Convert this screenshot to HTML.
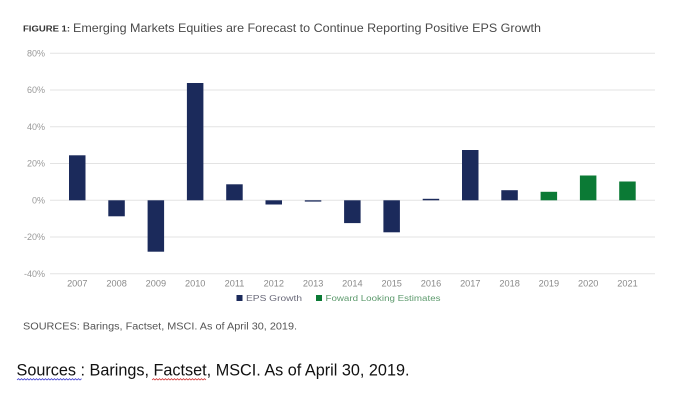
<!DOCTYPE html>
<html><head><meta charset="utf-8"><style>
html,body{margin:0;padding:0;background:#fff;width:690px;height:401px;overflow:hidden}
svg{display:block}
text{font-family:"Liberation Sans",sans-serif}
</style></head><body>
<svg width="690" height="401" viewBox="0 0 690 401" xmlns="http://www.w3.org/2000/svg">
<rect width="690" height="401" fill="#fff"/>
<!-- title -->
<text x="23" y="31.5" font-size="8.6" font-weight="bold" fill="#333" textLength="47" lengthAdjust="spacingAndGlyphs">FIGURE 1:</text>
<text x="73" y="32" font-size="12" fill="#4a4a4a" textLength="468" lengthAdjust="spacingAndGlyphs">Emerging Markets Equities are Forecast to Continue Reporting Positive EPS Growth</text>
<!-- gridlines -->
<g stroke="#e3e3e3" stroke-width="1">
<line x1="50" y1="53.3" x2="655" y2="53.3"/>
<line x1="50" y1="90" x2="655" y2="90"/>
<line x1="50" y1="126.8" x2="655" y2="126.8"/>
<line x1="50" y1="163.5" x2="655" y2="163.5"/>
<line x1="50" y1="200.3" x2="655" y2="200.3"/>
<line x1="50" y1="237" x2="655" y2="237"/>
<line x1="50" y1="273.8" x2="655" y2="273.8"/>
</g>
<!-- y labels -->
<g font-size="9" fill="#999" text-anchor="end">
<text x="45" y="56.5">80%</text>
<text x="45" y="93.2">60%</text>
<text x="45" y="130">40%</text>
<text x="45" y="166.7">20%</text>
<text x="45" y="203.5">0%</text>
<text x="45" y="240.2">-20%</text>
<text x="45" y="277">-40%</text>
</g>
<!-- bars: y = 200.3 - v*1.8375 -->
<g fill="#1b2a5b">
<rect x="69" y="155.3" width="16.5" height="45"/>
<rect x="108.3" y="200.3" width="16.5" height="16"/>
<rect x="147.6" y="200.3" width="16.5" height="51.4"/>
<rect x="186.9" y="83" width="16.5" height="117.3"/>
<rect x="226.2" y="184.3" width="16.5" height="16"/>
<rect x="265.5" y="200.3" width="16.5" height="4.2"/>
<rect x="304.8" y="200.3" width="16.5" height="1.3"/>
<rect x="344.1" y="200.3" width="16.5" height="22.8"/>
<rect x="383.4" y="200.3" width="16.5" height="32"/>
<rect x="422.7" y="198.8" width="16.5" height="1.5"/>
<rect x="462" y="150" width="16.5" height="50.3"/>
<rect x="501.3" y="190.2" width="16.5" height="10.1"/>
</g>
<g fill="#0b7a35">
<rect x="540.6" y="191.8" width="16.5" height="8.5"/>
<rect x="579.9" y="175.5" width="16.5" height="24.8"/>
<rect x="619.2" y="181.5" width="16.5" height="18.8"/>
</g>
<!-- x labels -->
<g font-size="9.2" fill="#8a8a8a" text-anchor="middle">
<text x="77.3" y="286.6">2007</text>
<text x="116.6" y="286.6">2008</text>
<text x="155.9" y="286.6">2009</text>
<text x="195.2" y="286.6">2010</text>
<text x="234.5" y="286.6">2011</text>
<text x="273.8" y="286.6">2012</text>
<text x="313.1" y="286.6">2013</text>
<text x="352.4" y="286.6">2014</text>
<text x="391.7" y="286.6">2015</text>
<text x="431" y="286.6">2016</text>
<text x="470.3" y="286.6">2017</text>
<text x="509.6" y="286.6">2018</text>
<text x="548.9" y="286.6">2019</text>
<text x="588.2" y="286.6">2020</text>
<text x="627.5" y="286.6">2021</text>
</g>
<!-- legend -->
<rect x="236.5" y="295" width="6" height="6" fill="#1b2a5b"/>
<text x="246" y="301" font-size="8.6" fill="#6a6a7a" textLength="56" lengthAdjust="spacingAndGlyphs">EPS Growth</text>
<rect x="316" y="295" width="6" height="6" fill="#0b7a35"/>
<text x="325.5" y="301" font-size="8.6" fill="#5d9a6d" textLength="115" lengthAdjust="spacingAndGlyphs">Foward Looking Estimates</text>
<!-- sources -->
<text x="23" y="329.5" font-size="9.8" fill="#555" textLength="274" lengthAdjust="spacingAndGlyphs">SOURCES: Barings, Factset, MSCI. As of April 30, 2019.</text>
<!-- bottom text -->
<text x="16.5" y="375.5" font-size="16.5" fill="#111" textLength="393" lengthAdjust="spacingAndGlyphs">Sources : Barings, Factset, MSCI. As of April 30, 2019.</text>
<path d="M17 380 l1.5 -1.3 l1.5 1.3 l1.5 -1.3 l1.5 1.3 l1.5 -1.3 l1.5 1.3 l1.5 -1.3 l1.5 1.3 l1.5 -1.3 l1.5 1.3 l1.5 -1.3 l1.5 1.3 l1.5 -1.3 l1.5 1.3 l1.5 -1.3 l1.5 1.3 l1.5 -1.3 l1.5 1.3 l1.5 -1.3 l1.5 1.3 l1.5 -1.3 l1.5 1.3 l1.5 -1.3 l1.5 1.3 l1.5 -1.3 l1.5 1.3 l1.5 -1.3 l1.5 1.3 l1.5 -1.3 l1.5 1.3 l1.5 -1.3 l1.5 1.3 l1.5 -1.3 l1.5 1.3 l1.5 -1.3 l1.5 1.3 l1.5 -1.3 l1.5 1.3 l1.5 -1.3 l1.5 1.3 l1.5 -1.3 l1.5 1.3 l1.5 -1.3" fill="none" stroke="#3a3ad0" stroke-width="0.8"/>
<path d="M152 380 l1.5 -1.3 l1.5 1.3 l1.5 -1.3 l1.5 1.3 l1.5 -1.3 l1.5 1.3 l1.5 -1.3 l1.5 1.3 l1.5 -1.3 l1.5 1.3 l1.5 -1.3 l1.5 1.3 l1.5 -1.3 l1.5 1.3 l1.5 -1.3 l1.5 1.3 l1.5 -1.3 l1.5 1.3 l1.5 -1.3 l1.5 1.3 l1.5 -1.3 l1.5 1.3 l1.5 -1.3 l1.5 1.3 l1.5 -1.3 l1.5 1.3 l1.5 -1.3 l1.5 1.3 l1.5 -1.3 l1.5 1.3 l1.5 -1.3 l1.5 1.3 l1.5 -1.3 l1.5 1.3 l1.5 -1.3 l1.5 1.3" fill="none" stroke="#d03030" stroke-width="0.8"/>
</svg>
</body></html>
